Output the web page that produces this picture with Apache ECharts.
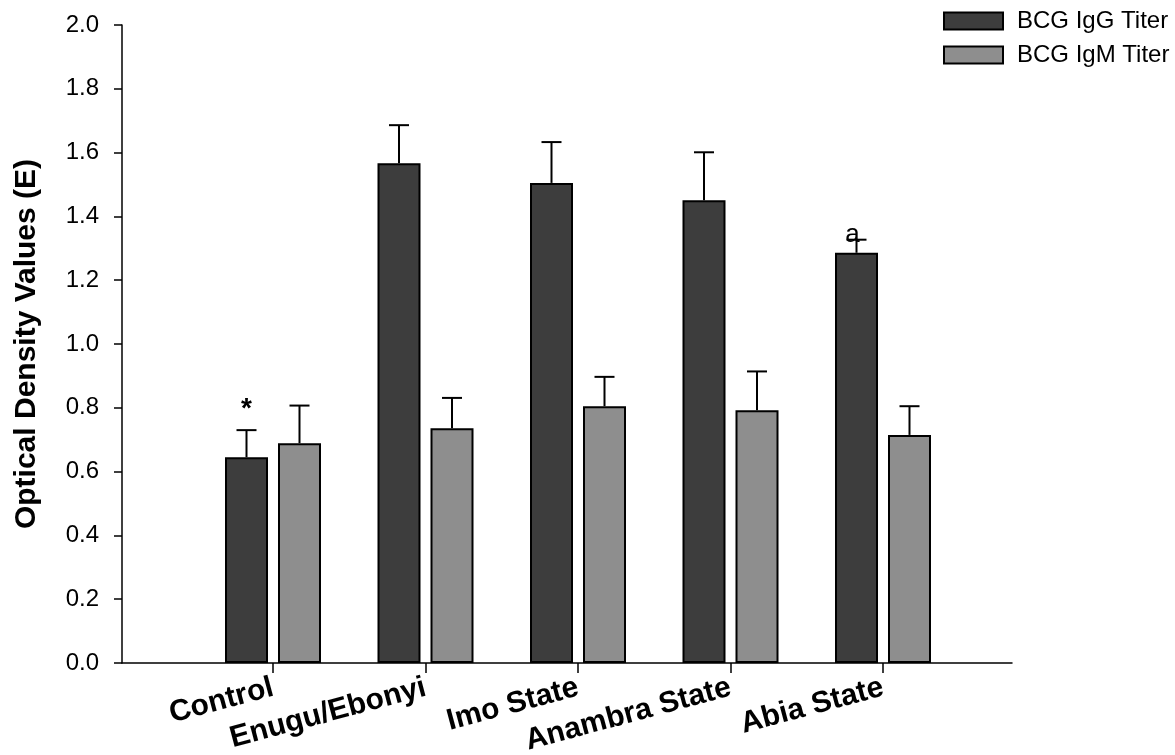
<!DOCTYPE html>
<html>
<head>
<meta charset="utf-8">
<script src="https://cdn.jsdelivr.net/npm/echarts@6/dist/echarts.min.js"></script>
<style>html,body{margin:0;padding:0;background:#fff}#c{width:1175px;height:755px}</style>
</head>
<body>
<div id="c"></div>
<script>
const categories = ['Control', 'Enugu/Ebonyi', 'Imo State', 'Anambra State', 'Abia State'];
const seriesNames = ['BCG IgG Titer', 'BCG IgM Titer'];
const igg = [0.645, 1.567, 1.505, 1.451, 1.286];
const iggErrTop = [0.730, 1.686, 1.633, 1.601, 1.327];
const igm = [0.689, 0.736, 0.805, 0.792, 0.715];
const igmErrTop = [0.807, 0.831, 0.897, 0.914, 0.805];
const iggMarks = ['*', '', '', '', 'a'];
const yTicks = [0, 0.2, 0.4, 0.6, 0.8, 1.0, 1.2, 1.4, 1.6, 1.8, 2.0];

const FONT = "'Liberation Sans', Arial, Helvetica, sans-serif";
const BAR_W = 43, GAP_PX = 10;
const OFF = (BAR_W + GAP_PX) / 2;

const errData = [];
categories.forEach((c, i) => {
  errData.push([i, igg[i], iggErrTop[i], -1, iggMarks[i]]);
  errData.push([i, igm[i], igmErrTop[i], 1, '']);
});

const chart = echarts.init(document.getElementById('c'), null, {renderer: 'canvas'});
const option = {
  animation: false,
  backgroundColor: '#fff',
  textStyle: {fontFamily: FONT, color: '#000'},
  legend: {
    orient: 'vertical', left: 938, top: 4, icon: 'rect',
    itemWidth: 59, itemHeight: 17, itemGap: 10,
    data: seriesNames,
    textStyle: {fontSize: 24, color: '#000', fontFamily: FONT, padding: [0, 0, 0, 9]}
  },
  grid: [
    {left: 122, right: 163, top: 25, bottom: 92, containLabel: false, outerBoundsMode: 'none'},
    {left: 273 - 76.25, width: 762.5, top: 25, bottom: 92, containLabel: false, outerBoundsMode: 'none'}
  ],
  xAxis: [
    {type: 'value', gridIndex: 0, min: 0, max: 1, axisLine: {show: true, lineStyle: {color: '#000', width: 1.5}},
     axisTick: {show: false}, axisLabel: {show: false}, splitLine: {show: false}},
    {type: 'category', gridIndex: 1, data: categories, boundaryGap: true,
     axisLine: {show: false},
     axisTick: {show: true, alignWithLabel: true, length: 10, lineStyle: {color: '#000', width: 1.5}},
     axisLabel: {rotate: 15, fontSize: 30, fontWeight: 'bold', color: '#000', fontFamily: FONT, margin: 24, interval: 0,
       hideOverlap: false},
     splitLine: {show: false}}
  ],
  yAxis: [
    {type: 'value', gridIndex: 0, min: 0, max: 2, interval: 0.2,
     name: 'Optical Density Values (E)', nameLocation: 'middle', nameGap: 80,
     nameTextStyle: {fontSize: 30, fontWeight: 'bold', color: '#000', fontFamily: FONT},
     axisLine: {show: true, lineStyle: {color: '#000', width: 1.5}},
     axisTick: {show: true, length: 8, lineStyle: {color: '#000', width: 1.5}},
     axisLabel: {fontSize: 24, color: '#000', margin: 23, fontFamily: FONT,
       formatter: v => yTicks.some(t => Math.abs(t - v) < 1e-9) ? v.toFixed(1) : ''},
     splitLine: {show: false}},
    {type: 'value', gridIndex: 1, min: 0, max: 2, show: false}
  ],
  series: [
    {name: seriesNames[0], type: 'bar', xAxisIndex: 1, yAxisIndex: 1, data: igg,
     barWidth: BAR_W, barGap: (GAP_PX / BAR_W * 100) + '%',
     itemStyle: {color: '#3d3d3d', borderColor: '#000', borderWidth: 2}},
    {name: seriesNames[1], type: 'bar', xAxisIndex: 1, yAxisIndex: 1, data: igm,
     barWidth: BAR_W, barGap: (GAP_PX / BAR_W * 100) + '%',
     itemStyle: {color: '#8e8e8e', borderColor: '#000', borderWidth: 2}},
    {type: 'custom', xAxisIndex: 1, yAxisIndex: 1, data: errData, z: 5,
     renderItem: (params, api) => {
       const i = api.value(0);
       const base = api.coord([i, api.value(1)]);
       const top = api.coord([i, api.value(2)]);
       const x = base[0] + api.value(3) * OFF;
       const cap = 10;
       const children = [
         {type: 'line', shape: {x1: x, y1: base[1], x2: x, y2: top[1]}, style: {stroke: '#000', lineWidth: 2}},
         {type: 'line', shape: {x1: x - cap, y1: top[1], x2: x + cap, y2: top[1]}, style: {stroke: '#000', lineWidth: 2}}
       ];
       const mark = errData[params.dataIndex][4];
       if (mark === '*') {
         children.push({type: 'text', style: {text: mark, x: x, y: top[1] - 7, align: 'center', verticalAlign: 'bottom',
           font: 'bold 28px ' + FONT, fill: '#000'}});
       } else if (mark) {
         children.push({type: 'text', style: {text: mark, x: x - 4, y: top[1] + 8, align: 'center', verticalAlign: 'bottom',
           font: '26px ' + FONT, fill: '#000'}});
       }
       return {type: 'group', children};
     }}
  ]
};
chart.setOption(option);
</script>
</body>
</html>
